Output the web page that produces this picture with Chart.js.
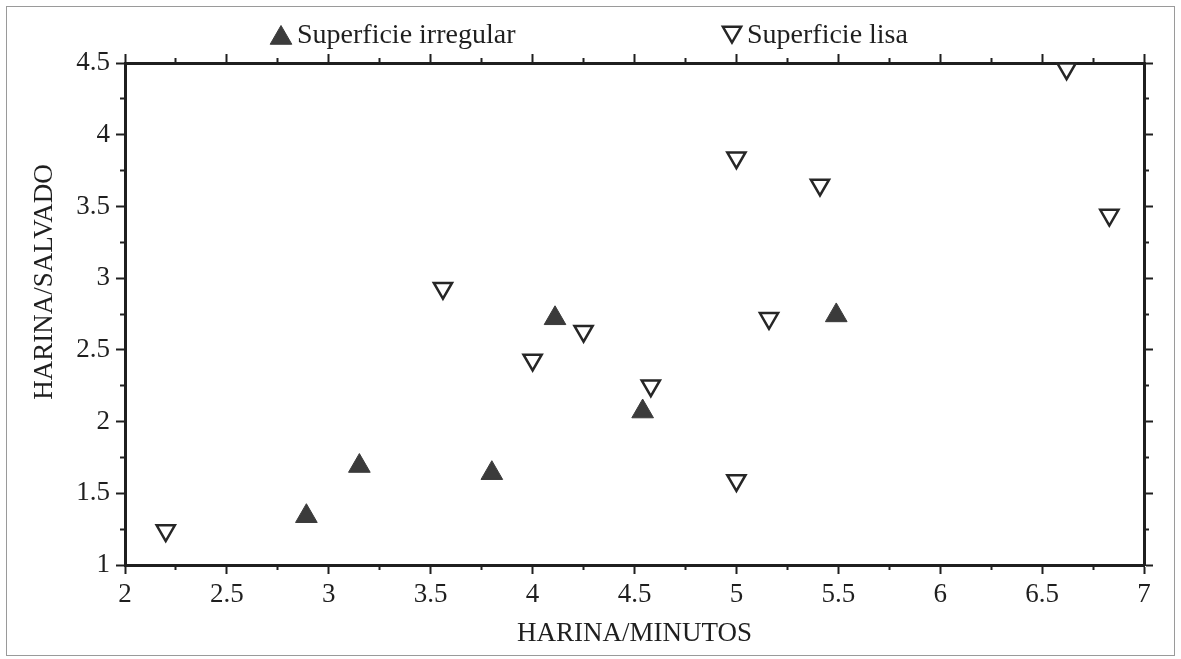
<!DOCTYPE html>
<html>
<head>
<meta charset="utf-8">
<script src="https://cdn.jsdelivr.net/npm/chart.js@4.4.1/dist/chart.umd.min.js"></script>
<style>
  html, body { margin: 0; padding: 0; background: #fff; }
  #wrap { position: relative; width: 1181px; height: 659px; }
  #frame { position: absolute; left: 6px; top: 6px; width: 1167px; height: 648px;
           border: 1px solid #9a9a9a; pointer-events: none; }
</style>
</head>
<body>
<div id="wrap">
  <canvas id="chart" width="1181" height="659"></canvas>
  <div id="frame"></div>
</div>
<script>
// values
const seriesNames = ['Superficie irregular', 'Superficie lisa'];

const irregularX = [2.89, 3.15, 3.80, 4.11, 4.54, 5.49];
const irregularY = [1.34, 1.69, 1.64, 2.72, 2.07, 2.74];

const lisaX = [2.20, 3.56, 4.00, 4.25, 4.58, 5.00, 5.00, 5.16, 5.41, 6.62, 6.83];
const lisaY = [1.24, 2.93, 2.43, 2.63, 2.25, 3.84, 1.59, 2.72, 3.65, 4.46, 3.44];

const xTicks = [2, 2.5, 3, 3.5, 4, 4.5, 5, 5.5, 6, 6.5, 7];
const xTickLabels = ['2', '2.5', '3', '3.5', '4', '4.5', '5', '5.5', '6', '6.5', '7'];
const xMinorTicks = [2.25, 2.75, 3.25, 3.75, 4.25, 4.75, 5.25, 5.75, 6.25, 6.75];

const yTicks = [1, 1.5, 2, 2.5, 3, 3.5, 4, 4.5];
const yTickLabels = ['1', '1.5', '2', '2.5', '3', '3.5', '4', '4.5'];
const yMinorTicks = [1.25, 1.75, 2.25, 2.75, 3.25, 3.75, 4.25];

const xTitle = 'HARINA/MINUTOS';
const yTitle = 'HARINA/SALVADO';

const serif = "'Liberation Serif', 'Times New Roman', serif";
const ink = '#1f1f1f';

const points = (xs, ys) => xs.map((x, i) => ({ x: x, y: ys[i] }));

// frame axes: the labelled ones plus unlabelled copies for the other sides and minor ticks
function edgeAxis(axis, position, values, tickLength, weight, main, size) {
  const horiz = axis === 'x';
  return {
    type: 'linear',
    axis: axis,
    position: position,
    min: horiz ? 2 : 1,
    max: horiz ? 7 : 4.5,
    weight: weight,
    afterBuildTicks: s => { s.ticks = values.map(v => ({ value: v })); },
    afterFit: s => { if (horiz) s.height = size; else s.width = size; },
    grid: { drawOnChartArea: false, drawTicks: true, tickLength: tickLength, tickWidth: 2, tickColor: ink },
    border: { display: main, width: 3, color: ink },
    ticks: { display: false }
  };
}

const xMain = edgeAxis('x', 'bottom', xTicks, 9, 1, true, 94);
xMain.ticks = {
  display: true, color: ink, padding: 5, maxRotation: 0, autoSkip: false,
  font: { family: serif, size: 27 },
  callback: (v, i) => xTickLabels[i]
};
xMain.title = {
  display: true, text: xTitle, color: ink,
  font: { family: serif, size: 27 }, padding: { top: 0, bottom: 9 }
};

const yMain = edgeAxis('y', 'left', yTicks, 9, 1, true, 125);
yMain.ticks = {
  display: true, color: ink, padding: 6, autoSkip: false,
  font: { family: serif, size: 27 },
  callback: (v, i) => yTickLabels[i]
};

const overlay = {
  id: 'overlay',
  afterDraw(chart) {
    const ctx = chart.ctx;
    ctx.save();
    // y axis title
    ctx.fillStyle = ink;
    ctx.font = '27px ' + serif;
    ctx.textAlign = 'center';
    ctx.textBaseline = 'middle';
    ctx.translate(45, 282);
    ctx.rotate(-Math.PI / 2);
    ctx.fillText(yTitle, 0, 0);
    ctx.restore();

    // legend across the top
    const legendX = [281, 732];
    const legendTextX = [297, 747];
    const legendY = [38, 32];
    ctx.save();
    chart.data.datasets.forEach((ds, i) => {
      ctx.fillStyle = ds.backgroundColor;
      ctx.strokeStyle = ds.borderColor;
      ctx.lineWidth = ds.borderWidth;
      Chart.helpers.drawPoint(ctx, {
        pointStyle: 'triangle', rotation: ds.pointRotation,
        radius: ds.pointRadius, borderWidth: ds.borderWidth
      }, legendX[i], legendY[i]);
      ctx.fillStyle = ink;
      ctx.font = '28px ' + serif;
      ctx.textAlign = 'left';
      ctx.textBaseline = 'middle';
      ctx.fillText(ds.label, legendTextX[i], 36);
    });
    ctx.restore();
  }
};

new Chart(document.getElementById('chart'), {
  type: 'scatter',
  data: {
    datasets: [
      {
        label: seriesNames[0],
        data: points(irregularX, irregularY),
        pointStyle: 'triangle',
        pointRotation: 0,
        pointRadius: 12.5,
        backgroundColor: '#3b3b3b',
        borderColor: '#3b3b3b',
        borderWidth: 1,
        clip: false
      },
      {
        label: seriesNames[1],
        data: points(lisaX, lisaY),
        pointStyle: 'triangle',
        pointRotation: 180,
        pointRadius: 10.5,
        backgroundColor: '#ffffff',
        borderColor: '#262626',
        borderWidth: 2.5,
        clip: false
      }
    ]
  },
  options: {
    responsive: false,
    animation: false,
    events: [],
    layout: { padding: { top: 63, right: 37, left: 0, bottom: 0 } },
    plugins: { legend: { display: false }, tooltip: { enabled: false } },
    scales: {
      x: xMain,
      xMinor: edgeAxis('x', 'bottom', xMinorTicks, 5, 0, false, 0),
      xTop: edgeAxis('x', 'top', xTicks, 9, 1, true, 0),
      xTopMinor: edgeAxis('x', 'top', xMinorTicks, 5, 0, false, 0),
      y: yMain,
      yMinor: edgeAxis('y', 'left', yMinorTicks, 5, 0, false, 0),
      yRight: edgeAxis('y', 'right', yTicks, 9, 1, true, 0),
      yRightMinor: edgeAxis('y', 'right', yMinorTicks, 5, 0, false, 0)
    }
  },
  plugins: [overlay]
});
</script>
</body>
</html>
